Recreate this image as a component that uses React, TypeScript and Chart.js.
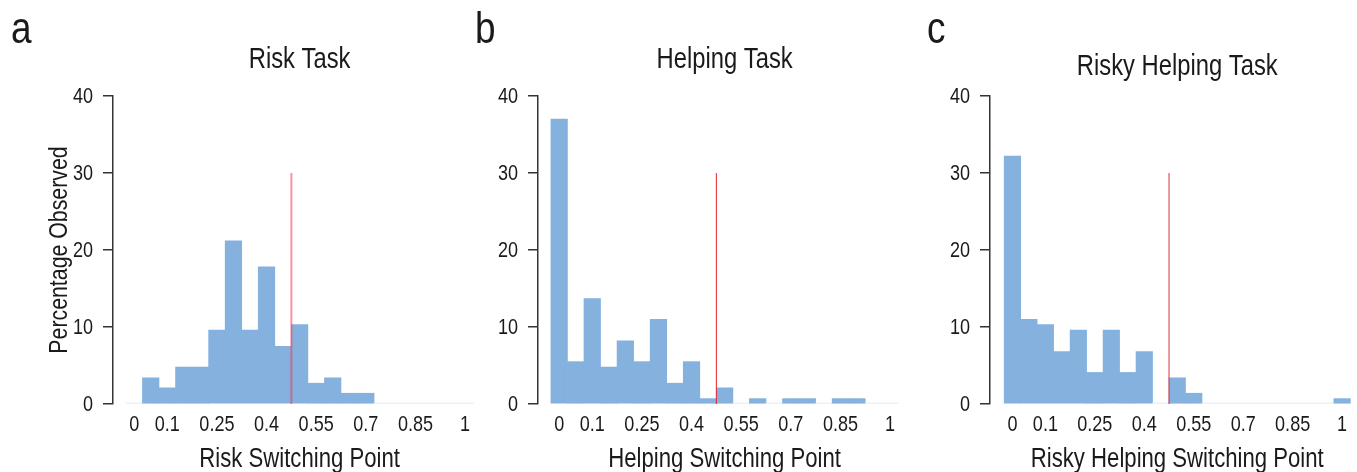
import React, { useEffect, useRef } from "react";
import { Chart, registerables } from "chart.js";

Chart.register(...registerables);

// ---- data ----
const binCenters = [0, 0.05, 0.1, 0.15, 0.2, 0.25, 0.3, 0.35, 0.4, 0.45, 0.5, 0.55, 0.6, 0.65, 0.7, 0.75, 0.8, 0.85, 0.9, 0.95, 1];
const riskValues = [0, 3.4, 2.1, 4.8, 4.8, 9.6, 21.2, 9.6, 17.8, 7.5, 10.3, 2.7, 3.4, 1.4, 1.4, 0, 0, 0, 0, 0, 0];
const helpingValues = [37.0, 5.5, 13.7, 4.8, 8.2, 5.5, 11.0, 2.7, 5.5, 0.7, 2.1, 0, 0.7, 0, 0.7, 0.7, 0, 0.7, 0.7, 0, 0];
const riskyHelpingValues = [32.2, 11.0, 10.3, 6.8, 9.6, 4.1, 9.6, 4.1, 6.8, 0, 3.4, 1.4, 0, 0, 0, 0, 0, 0, 0, 0, 0.7];
const xTickValues = [0, 0.1, 0.25, 0.4, 0.55, 0.7, 0.85, 1];
const xTickLabels = ["0", "0.1", "0.25", "0.4", "0.55", "0.7", "0.85", "1"];
const yTickValues = [0, 10, 20, 30, 40];
const yTickLabels = ["0", "10", "20", "30", "40"];
const switchPoint = 0.475;
const switchTop = 30;

const panelLetters = ["a", "b", "c"];
const panelTitles = ["Risk Task", "Helping Task", "Risky Helping Task"];
const xTitles = ["Risk Switching Point", "Helping Switching Point", "Risky Helping Switching Point"];
const yTitle = "Percentage Observed";

const FONT = "'Liberation Sans', Arial, sans-serif";
const NARROW = 0.82;
const BAR = "#84b1de";
const BAR_ZERO = "#dde8f6";
const INK = "#1a1a1a";

type PanelCfg = {
  idx: number;
  values: number[];
  left: number;
  width: number;
  areaLeft: number;
  padRight: number;
  xMin: number;
  letterX: number;
  titleBaseline: number;
  showY: boolean;
  lineColor: string;
  lineWidth: number;
};

const panels: PanelCfg[] = [
  { idx: 0, values: riskValues, left: 0, width: 480, areaLeft: 113, padRight: 6, xMin: -0.064, letterX: 11, titleBaseline: 68, showY: true, lineColor: "rgba(236,60,85,0.55)", lineWidth: 2 },
  { idx: 1, values: helpingValues, left: 470, width: 440, areaLeft: 68, padRight: 11, xMin: -0.064, letterX: 5, titleBaseline: 68, showY: false, lineColor: "#e8202a", lineWidth: 1 },
  { idx: 2, values: riskyHelpingValues, left: 910, width: 447, areaLeft: 80, padRight: 6, xMin: -0.068, letterX: 17, titleBaseline: 75, showY: false, lineColor: "#d83038", lineWidth: 1 },
];

function narrowText(ctx: CanvasRenderingContext2D, text: string, x: number, y: number, size: number, align: CanvasTextAlign, baseline: CanvasTextBaseline, rotate = 0) {
  ctx.save();
  ctx.translate(x, y);
  if (rotate) ctx.rotate(rotate);
  ctx.scale(NARROW, 1);
  ctx.font = `${size}px ${FONT}`;
  ctx.textAlign = align;
  ctx.textBaseline = baseline;
  ctx.fillStyle = INK;
  ctx.fillText(text, 0, 0);
  ctx.restore();
}

const textPlugin = {
  id: "panelText",
  afterDraw(chart: any, _args: any, opts: any) {
    const { ctx, chartArea } = chart;
    const xs = chart.scales.x;
    const ys = chart.scales.y;
    const cx = xs.getPixelForValue(0.5);
    // panel letter
    narrowText(ctx, opts.letter, opts.letterX, 43, 45, "left", "alphabetic");
    // panel title
    narrowText(ctx, opts.title, cx, opts.titleBaseline, 29, "center", "alphabetic");
    // x tick labels
    xTickValues.forEach((v, i) => {
      narrowText(ctx, xTickLabels[i], xs.getPixelForValue(v), chartArea.bottom + 21, 22, "center", "middle");
    });
    // y tick labels
    yTickValues.forEach((v, i) => {
      narrowText(ctx, yTickLabels[i], chartArea.left - 20, ys.getPixelForValue(v) + 0.5, 22, "right", "middle");
    });
    // x title
    narrowText(ctx, opts.xTitle, cx, 467, 27, "center", "alphabetic");
    // y title
    if (opts.yTitle) {
      narrowText(ctx, opts.yTitle, 66.5, (chartArea.top + chartArea.bottom) / 2, 26, "center", "alphabetic", -Math.PI / 2);
    }
  },
};

function Panel({ cfg }: { cfg: PanelCfg }) {
  const ref = useRef<HTMLCanvasElement | null>(null);
  useEffect(() => {
    if (!ref.current) return;
    const chart = new Chart(ref.current, {
      type: "bar",
      data: {
        datasets: [
          {
            type: "line",
            data: [
              { x: switchPoint, y: 0 },
              { x: switchPoint, y: switchTop },
            ],
            borderColor: cfg.lineColor,
            borderWidth: cfg.lineWidth,
            pointRadius: 0,
            order: 0,
          } as any,
          {
            type: "bar",
            data: binCenters.map((x, i) => ({ x, y: cfg.values[i] })),
            backgroundColor: (c: any) => (c.raw && c.raw.y === 0 ? BAR_ZERO : BAR),
            barPercentage: 1,
            categoryPercentage: 1,
            minBarLength: 1,
            borderWidth: 0,
            order: 1,
          } as any,
        ],
      },
      options: {
        animation: false,
        responsive: false,
        maintainAspectRatio: false,
        layout: { padding: { top: 96, right: cfg.padRight, bottom: 0, left: 0 } },
        plugins: {
          legend: { display: false },
          tooltip: { enabled: false },
          panelText: {
            letter: panelLetters[cfg.idx],
            letterX: cfg.letterX,
            title: panelTitles[cfg.idx],
            titleBaseline: cfg.titleBaseline,
            xTitle: xTitles[cfg.idx],
            yTitle: cfg.showY ? yTitle : "",
          },
        } as any,
        scales: {
          x: {
            type: "linear",
            offset: false,
            min: cfg.xMin,
            max: 1.027,
            afterBuildTicks: (s: any) => {
              s.ticks = xTickValues.map((v) => ({ value: v }));
            },
            afterFit: (s: any) => {
              s.height = 68;
            },
            ticks: { display: false },
            grid: { display: false },
            border: { display: false },
          },
          y: {
            min: 0,
            max: 40,
            afterBuildTicks: (s: any) => {
              s.ticks = yTickValues.map((v) => ({ value: v }));
            },
            afterFit: (s: any) => {
              s.width = cfg.areaLeft;
            },
            ticks: { display: false },
            grid: { drawOnChartArea: false, drawTicks: true, tickLength: 10, color: "#333", lineWidth: 1.5 },
            border: { color: "#333", width: 1.5 },
          },
        },
      } as any,
      plugins: [textPlugin as any],
    });
    return () => chart.destroy();
  }, [cfg]);
  return (
    <canvas
      ref={ref}
      width={cfg.width}
      height={472}
      style={{ position: "absolute", left: cfg.left, top: 0, width: cfg.width, height: 472 }}
    />
  );
}

export default function App() {
  return (
    <div style={{ position: "absolute", left: 0, top: 0, width: 1357, height: 472, background: "#fff", overflow: "hidden" }}>
      {panels.map((p) => (
        <Panel key={p.idx} cfg={p} />
      ))}
    </div>
  );
}
